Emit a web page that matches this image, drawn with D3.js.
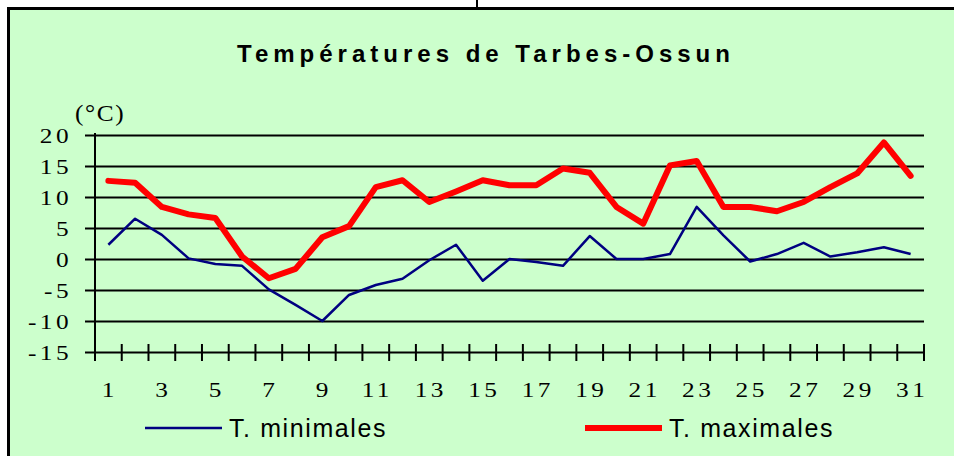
<!DOCTYPE html>
<html>
<head>
<meta charset="utf-8">
<script src="https://cdn.jsdelivr.net/npm/d3@7"></script>
<style>
  html, body { margin: 0; padding: 0; background: #fff; }
  svg { display: block; }
</style>
</head>
<body>
<svg width="954" height="456"></svg>
<script>
const days = d3.range(1, 32)
const tMin = [2.3, 6.5, 3.9, 0.1, -0.8, -1.1, -4.9, -7.4, -10.0, -5.8,
  -4.2, -3.2, -0.2, 2.3, -3.5, 0.0, -0.5, -1.1, 3.7, 0.0,
  0.0, 0.8, 8.4, 3.8, -0.4, 0.8, 2.6, 0.4, 1.1, 1.9, 0.8]
const tMax = [12.6, 12.3, 8.4, 7.2, 6.6, 0.4, -3.1, -1.6, 3.5, 5.3,
  11.6, 12.7, 9.2, 10.9, 12.7, 11.9, 11.9, 14.6, 13.9, 8.4,
  5.7, 15.1, 15.8, 8.4, 8.4, 7.7, 9.2, 11.6, 13.8, 18.8, 13.4]
const yTicks = [-15, -10, -5, 0, 5, 10, 15, 20]
const title = 'Températures de Tarbes-Ossun'
const unit = '(°C)'
const seriesNames = ['T. minimales', 'T. maximales']

const svg = d3.select('svg')
const width = 954
const serif = 'Liberation Serif, Times New Roman, serif'
const sans = 'Liberation Sans, Arial, sans-serif'
const stretch = 1.15 // the serif labels are drawn a bit wide in the original

// frame
svg.append('rect').attr('x', 8.5).attr('y', 8.5)
  .attr('width', width).attr('height', 460)
  .attr('fill', '#ccffcc').attr('stroke', '#000').attr('stroke-width', 3)
svg.append('line').attr('x1', 477).attr('x2', 477).attr('y1', 0).attr('y2', 8)
  .attr('stroke', '#000').attr('stroke-width', 2)

svg.append('text')
  .attr('x', 486).attr('y', 62)
  .attr('text-anchor', 'middle')
  .attr('font-family', sans)
  .attr('font-weight', 'bold').attr('font-size', 24)
  .attr('letter-spacing', 5)
  .text(title)

const x = d3.scaleBand().domain(days).range([95, 924])
const y = d3.scaleLinear().domain([-15, 20]).range([352, 135])

// gridlines + y axis
const yAxis = svg.append('g')
  .attr('transform', 'translate(95,0)')
  .call(d3.axisLeft(y).tickValues(yTicks).tickSize(-(924 - 95)).tickFormat(d => String(d)))
yAxis.select('.domain').remove()
yAxis.selectAll('.tick line')
  .attr('x1', -10).attr('stroke', '#000').attr('stroke-width', 2)
yAxis.selectAll('.tick text')
  .attr('font-family', serif)
  .attr('font-size', 22).attr('fill', '#000')
  .attr('letter-spacing', 3)
  .attr('x', -23 / stretch)
  .attr('transform', `scale(${stretch},1)`)

svg.append('line').attr('x1', 95).attr('x2', 95).attr('y1', 133).attr('y2', 353)
  .attr('stroke', '#000').attr('stroke-width', 2)

// x axis with ticks crossing at category boundaries
const bounds = days.map(d => x(d)).concat([x.range()[1]])
svg.append('g').selectAll('line').data(bounds).join('line')
  .attr('x1', d => d).attr('x2', d => d)
  .attr('y1', 344).attr('y2', 361)
  .attr('stroke', '#000').attr('stroke-width', 2)

svg.append('g').selectAll('text').data(days.filter(d => d % 2 === 1)).join('text')
  .attr('transform', d => `translate(${x(d) + x.bandwidth() / 2 + 1.5},397) scale(${stretch},1)`)
  .attr('text-anchor', 'middle')
  .attr('font-family', serif)
  .attr('font-size', 22)
  .attr('letter-spacing', 3)
  .text(d => d)

svg.append('text')
  .attr('transform', 'translate(75,121) scale(1.1,1)')
  .attr('font-family', serif)
  .attr('font-size', 23)
  .attr('letter-spacing', 1.5)
  .text(unit)

const line = d3.line()
  .x((d, i) => x(days[i]) + x.bandwidth() / 2)
  .y(d => y(d))

svg.append('path').datum(tMin)
  .attr('d', line)
  .attr('fill', 'none').attr('stroke', '#000080').attr('stroke-width', 2.5)
  .attr('stroke-linejoin', 'round')
svg.append('path').datum(tMax)
  .attr('d', line)
  .attr('fill', 'none').attr('stroke', '#ff0000').attr('stroke-width', 6)
  .attr('stroke-linejoin', 'round').attr('stroke-linecap', 'round')

// legend
const legend = [
  { name: seriesNames[0], color: '#000080', w: 2.5, x: 145 },
  { name: seriesNames[1], color: '#ff0000', w: 6, x: 585 }
]
const lg = svg.append('g').selectAll('g').data(legend).join('g')
  .attr('transform', d => `translate(${d.x},428)`)
lg.append('line').attr('x1', 0).attr('x2', 77)
  .attr('stroke', d => d.color).attr('stroke-width', d => d.w)
lg.append('text').attr('x', 84).attr('y', 9)
  .attr('font-family', sans)
  .attr('font-size', 25)
  .attr('letter-spacing', 1.6)
  .text(d => d.name)
</script>
</body>
</html>
